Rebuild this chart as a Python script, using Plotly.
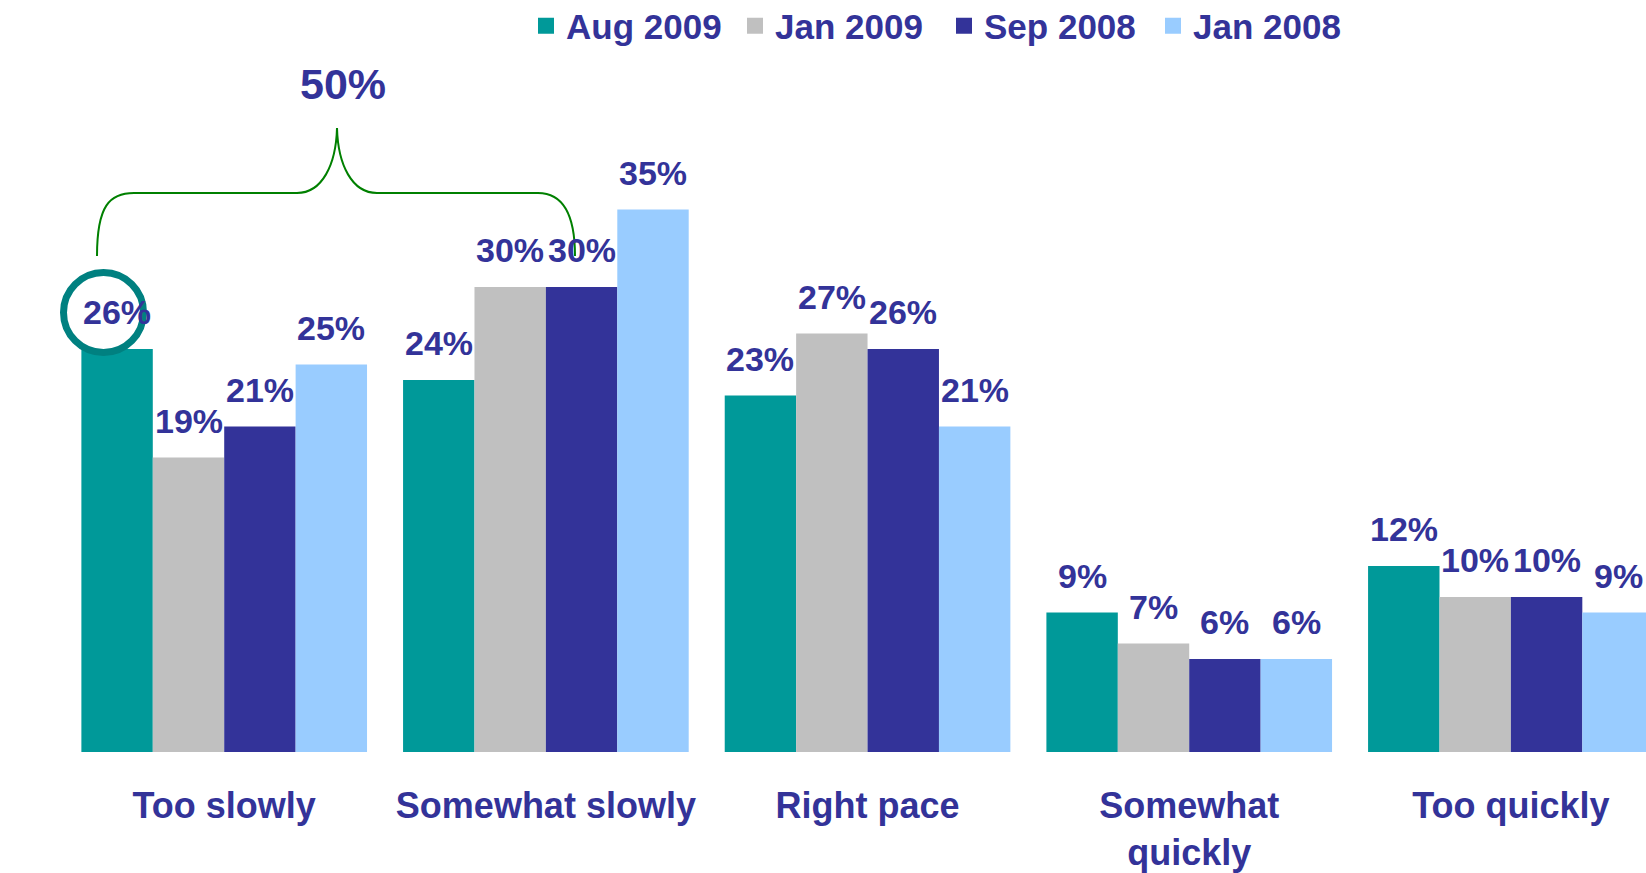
"""Pace of change survey: grouped bars by wave."""

import plotly.graph_objects as go

categories = ["Too slowly", "Somewhat slowly", "Right pace", "Somewhat quickly", "Too quickly"]
tick_labels = ["Too slowly", "Somewhat slowly", "Right pace", "Somewhat<br>quickly", "Too quickly"]

series_names = ["Aug 2009", "Jan 2009", "Sep 2008", "Jan 2008"]
aug_2009 = [26, 24, 23, 9, 12]
jan_2009 = [19, 30, 27, 7, 10]
sep_2008 = [21, 30, 26, 6, 10]
jan_2008 = [25, 35, 21, 6, 9]
series_values = [aug_2009, jan_2009, sep_2008, jan_2008]
colors = ["#009999", "#C0C0C0", "#333399", "#99CCFF"]

bracket_label = "50%"

TEXT = "#333399"
FONT = "Liberation Sans"
W, H = 1646, 873
BARGAP = 0.112
X_RANGE = [-0.697, 4.42]
MARGIN_B = 121
PLOT_H = H - MARGIN_B
Y_MAX = PLOT_H / 15.5


def paper(px, py):
    # page pixel -> paper coords of the plot area
    return px / W, 1 - py / PLOT_H


def svg_path(parts, close=False):
    s = " ".join(c + " ".join("%.5f,%.5f" % paper(x, y) for x, y in p) for c, p in parts)
    return s + (" Z" if close else "")


fig = go.Figure()
for name, vals, col in zip(series_names, series_values, colors):
    fig.add_trace(go.Bar(name=name, x=categories, y=vals, showlegend=False,
                         marker=dict(color=col, line=dict(width=0))))
# legend entries with bigger square swatches
for name, col in zip(series_names, colors):
    fig.add_trace(go.Scatter(name=name, x=[None], y=[None], mode="markers",
                             marker=dict(symbol="square", size=19, color=col, line=dict(width=0))))

# value labels above each bar
bw = (1 - BARGAP) / len(series_names)
for j, vals in enumerate(series_values):
    for i, v in enumerate(vals):
        fig.add_annotation(
            x=i + (j - 1.5) * bw, y=v, text="%d%%" % v, showarrow=False,
            yanchor="middle", yshift=37,
            font=dict(family=FONT, size=34, color=TEXT, weight="bold"),
        )

# brace over the two "slowly" groups
brace = [
    ("M", [(97, 256)]),
    ("C", [(97, 205), (110, 193), (134, 193)]),
    ("L", [(297, 193)]),
    ("C", [(322, 193), (336, 165), (337, 128)]),
    ("C", [(338, 165), (352, 193), (377, 193)]),
    ("L", [(538, 193)]),
    ("C", [(562, 193), (575, 213), (575, 256)]),
]
fig.add_shape(type="path", xref="paper", yref="paper", path=svg_path(brace),
              line=dict(color="#008000", width=2))
bx, by = paper(343, 84)
fig.add_annotation(x=bx, y=by, xref="paper", yref="paper", text=bracket_label, showarrow=False,
                   xanchor="center", yanchor="middle",
                   font=dict(family=FONT, size=43, color=TEXT, weight="bold"))

# up arrow
arrow = [("M", [(28, 299)]), ("L", [(45.5, 333), (37.5, 333), (37.5, 405),
                                    (19.5, 405), (19.5, 333), (11, 333)])]
fig.add_shape(type="path", xref="paper", yref="paper", path=svg_path(arrow, close=True),
              fillcolor="#339966", line=dict(width=0))

# ring around the first label
x0, y1 = paper(63.5, 272.5)
x1, y0 = paper(143.5, 352.5)
fig.add_shape(type="circle", xref="paper", yref="paper", x0=x0, x1=x1, y0=y0, y1=y1,
              line=dict(color="#008080", width=7))

lx, ly = paper(526, 26)
fig.update_layout(
    width=W, height=H,
    margin=dict(l=0, r=0, t=0, b=MARGIN_B, autoexpand=False),
    barmode="group", bargap=BARGAP, bargroupgap=0,
    plot_bgcolor="white", paper_bgcolor="white",
    font=dict(family=FONT, color=TEXT, weight="bold"),
    legend=dict(orientation="h", x=lx, y=ly, xanchor="left", yanchor="middle",
                entrywidth=164, itemsizing="trace",
                font=dict(family=FONT, size=35, color=TEXT, weight="bold"),
                bgcolor="rgba(0,0,0,0)"),
)
fig.update_xaxes(tickvals=categories, ticktext=tick_labels, range=X_RANGE,
                 showline=False, showgrid=False, ticks="", ticklabelstandoff=29,
                 tickfont=dict(family=FONT, size=36, color=TEXT, weight="bold"))
fig.update_yaxes(range=[0, Y_MAX], visible=False)

# drop the default body margin so the figure sits at the page corner
fig.write_html("out.html", config={"displayModeBar": False},
               post_script="document.body.style.margin = '0';")
